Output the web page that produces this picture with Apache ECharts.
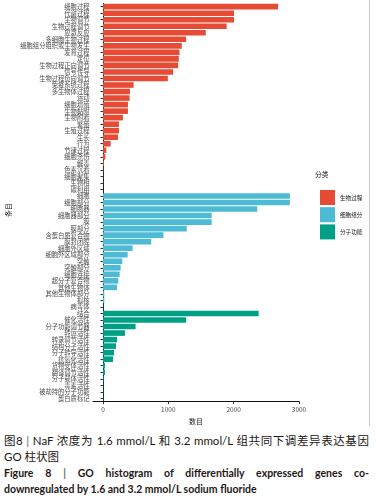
<!DOCTYPE html>
<html><head><meta charset="utf-8">
<script src="https://cdn.jsdelivr.net/npm/echarts@6/dist/echarts.min.js"></script>
<style>
html,body{margin:0;padding:0;background:#fff;width:378px;height:502px;overflow:hidden;}
#chart{position:absolute;left:0;top:0;width:378px;height:430px;}
#rline{position:absolute;left:369px;top:0;width:1px;height:426px;background:#c8c8c8;}
.cap{position:absolute;left:4px;width:365px;color:#231815;white-space:nowrap;font-family:"Lato","Noto Sans CJK SC",sans-serif;}
.j{text-align:justify;text-align-last:justify;}
.zh{font-size:11.5px;line-height:16px;}
.en{font-size:10.5px;line-height:16px;font-weight:bold;}
.sep{color:#666;}
</style></head><body>
<div id="chart"></div>
<div id="rline"></div>
<div class="cap zh j" style="top:433px;">图8 <span class="sep">|</span> NaF 浓度为 1.6 mmol/L 和 3.2 mmol/L 组共同下调差异表达基因</div>
<div class="cap zh" style="top:448.5px;">GO 柱状图</div>
<div class="cap en j" style="top:464.5px;">Figure 8 <span class="sep">|</span> GO histogram of differentially expressed genes co-</div>
<div class="cap en" style="top:481px;">downregulated by 1.6 and 3.2 mmol/L sodium fluoride</div>
<script>
const bpNames=['细胞过程','代谢过程','生物调节','生物过程调节','应激反应','多细胞生物过程','细胞组分组织或生物发生','发育过程','定位','生物过程正向调节','信号传导','生物过程负向调节','免疫系统过程','多生物体过程','运动','细胞增殖','生物黏附','生物附着','繁殖','生殖过程','生长','行为','节律过程','细胞杀伤','解毒','色素沉着','细胞聚集','生物相','碳利用'];
const bpValues=[2680,2005,2005,1893,1573,1272,1206,1171,1160,1150,1074,992,468,412,407,382,382,305,244,244,229,117,51,36,14,6,4,3,2];
const ccNames=['细胞','细胞部分','细胞器','细胞器部分','膜','膜部分','含蛋白质复合物','膜封闭腔','细胞外区域','细胞外区域部分','突触','突触部分','细胞连接','超分子复合物','其他生物体','其他生物体部分','拟核','病毒体'];
const ccValues=[2860,2860,2361,1664,1664,1282,926,738,453,377,295,270,255,234,214,20,20,3];
const mfNames=['结合','催化活性','分子功能调节器','转运活性','转录调节活性','结构分子活性','分子转导活性','抗氧化活性','货物受体活性','翻译调节活性','分子载体活性','毒素活性','被劫持的分子功能','蛋白质标记'];
const mfValues=[2382,1272,499,336,214,198,168,153,31,31,10,5,5,5];
const groupNames=['生物过程','细胞组分','分子功能'];
const groupColors=['#E64B35','#4DBBD5','#00A087'];
const xTicks=[0,1000,2000,3000];

const allNames=bpNames.concat(ccNames,mfNames);
const nB=bpNames.length,nC=ccNames.length,nM=mfNames.length;
function pad(vals,before,after){return Array(before).fill('-').concat(vals,Array(after).fill('-'));}
const seriesData=[pad(bpValues,0,nC+nM),pad(ccValues,nB,nM),pad(mfValues,nB+nC,0)];

const chart=echarts.init(document.getElementById('chart'),null,{renderer:'canvas'});
const cjk='"Noto Sans CJK SC",sans-serif';
chart.setOption({
  animation:false,
  backgroundColor:'#fff',
  grid:{left:93,top:3.4,width:206.2,height:398.5,containLabel:false},
  xAxis:{type:'value',min:-153,max:3003,
    axisLine:{show:true,onZero:false,lineStyle:{color:'#111',width:1}},
    axisTick:{show:true,customValues:xTicks,length:2.5,lineStyle:{color:'#333'}},
    axisLabel:{customValues:xTicks,fontSize:6.5,color:'#4d4d4d',margin:5,fontFamily:cjk,formatter:v=>String(v)},
    splitLine:{show:false},
    name:'数目',nameLocation:'middle',nameGap:14.5,nameTextStyle:{fontSize:7,color:'#1a1a1a',fontFamily:cjk}},
  yAxis:{type:'category',data:allNames,inverse:true,
    axisLine:{show:true,lineStyle:{color:'#111',width:1}},
    axisTick:{show:true,alignWithLabel:true,length:2.5,lineStyle:{color:'#333'}},
    axisLabel:{interval:0,fontSize:6.3,color:'#4d4d4d',margin:3.5,fontFamily:cjk},
    splitLine:{show:false}},
  legend:{orient:'vertical',left:315,top:185,itemWidth:15,itemHeight:15,itemGap:2.2,icon:'rect',
    data:groupNames,textStyle:{fontSize:5.6,color:'#1a1a1a',fontFamily:cjk}},
  graphic:[
    {type:'text',left:315,top:171,style:{text:'分类',fontSize:6.8,fill:'#1a1a1a',fontFamily:cjk}},
    {type:'text',x:8,y:210,rotation:Math.PI/2,style:{text:'条目',fontSize:7,fill:'#1a1a1a',fontFamily:cjk,align:'center',verticalAlign:'middle'}}
  ],
  series:groupNames.map((g,i)=>({name:g,type:'bar',stack:'s',barWidth:'86%',data:seriesData[i],
    itemStyle:{color:groupColors[i]}}))
});
</script>
</body></html>
